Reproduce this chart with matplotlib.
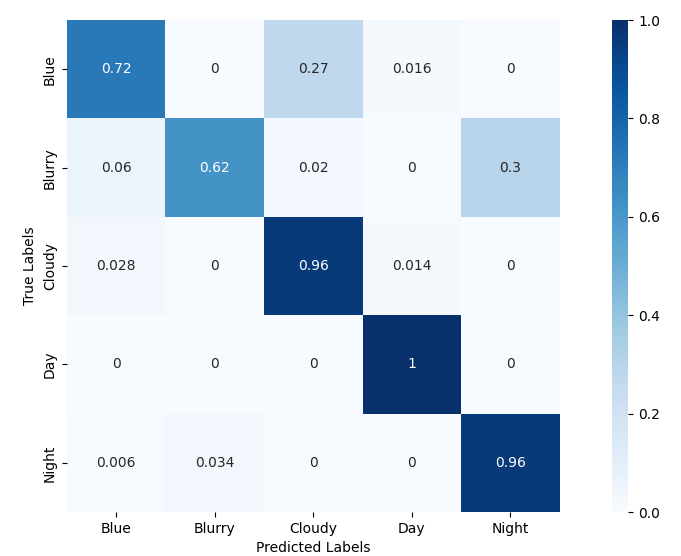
import numpy as np
import matplotlib
matplotlib.use("Agg")
import matplotlib.pyplot as plt
import seaborn as sns

classes = ["Blue", "Blurry", "Cloudy", "Day", "Night"]
row_blue = [0.72, 0, 0.27, 0.016, 0]
row_blurry = [0.06, 0.62, 0.02, 0, 0.3]
row_cloudy = [0.028, 0, 0.96, 0.014, 0]
row_day = [0, 0, 0, 1, 0]
row_night = [0.006, 0.034, 0, 0, 0.96]

cm = np.array([row_blue, row_blurry, row_cloudy, row_day, row_night])

fig = plt.figure(figsize=(6.81, 5.56), dpi=100)
ax = fig.add_axes([0.098, 0.079, 0.724, 0.885])
cax = fig.add_axes([0.899, 0.079, 0.0235, 0.885])

sns.heatmap(cm, annot=True, fmt=".2g", cmap="Blues", vmin=0, vmax=1,
            xticklabels=classes, yticklabels=classes, ax=ax, cbar_ax=cax)
ax.set_xlabel("Predicted Labels")
ax.set_ylabel("True Labels")

fig.savefig("out.png", dpi=100)
